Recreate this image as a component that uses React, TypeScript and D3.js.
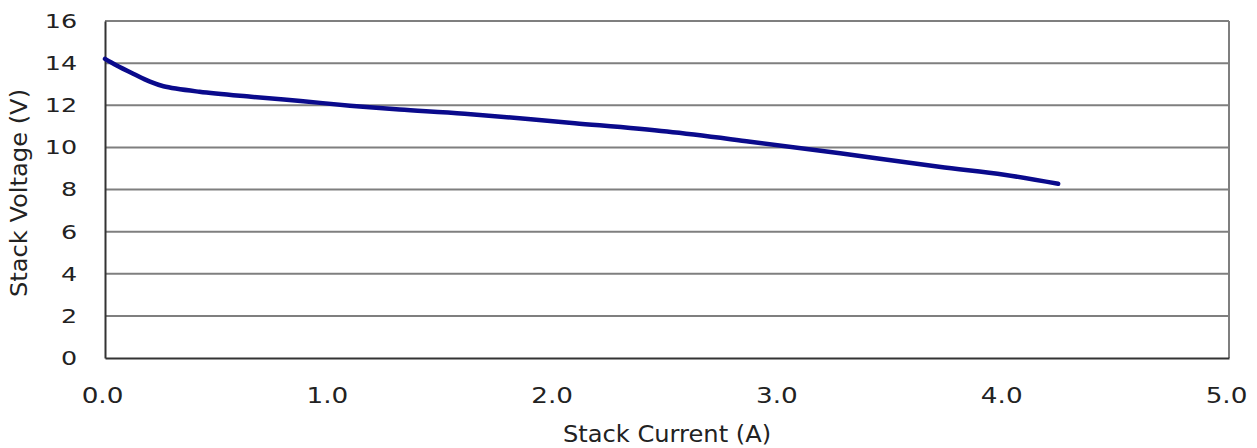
import React, { useEffect, useRef } from "react";
import * as d3 from "d3";

// Stack current (A) and stack voltage (V)
const current = [0, 0.05, 0.125, 0.2, 0.26, 0.42, 0.65, 0.87, 1.09, 1.31, 1.6, 2.09, 2.5, 2.87, 3.27, 3.71, 4.0, 4.24];
const voltage = [14.2, 13.9, 13.5, 13.12, 12.9, 12.64, 12.4, 12.2, 11.98, 11.8, 11.6, 11.15, 10.75, 10.27, 9.72, 9.08, 8.7, 8.27];
const xTicks = [0, 1, 2, 3, 4, 5];
const yTicks = [0, 2, 4, 6, 8, 10, 12, 14, 16];

const App = () => {
  const container = useRef<HTMLDivElement>(null);

  useEffect(() => {
    const width = 1257;
    const height = 448;
    const marginTop = 21;
    const marginRight = 28;
    const marginBottom = 90;
    const marginLeft = 105;
    const font = "'DejaVu Sans', Verdana, sans-serif";
    const textColor = "#222";

    const data = current.map((c, i) => ({ c, v: voltage[i] }));

    const x = d3.scaleLinear().domain([0, 5]).range([marginLeft, width - marginRight]);
    const y = d3.scaleLinear().domain([0, 16]).range([height - marginBottom, marginTop]);

    const svg = d3
      .select(container.current)
      .append("svg")
      .attr("width", width)
      .attr("height", height)
      .attr("viewBox", [0, 0, width, height])
      .style("position", "absolute")
      .style("left", "0px")
      .style("top", "0px")
      .style("background", "#fff");

    // horizontal gridlines
    svg
      .append("g")
      .selectAll("line")
      .data(yTicks.slice(1))
      .join("line")
      .attr("x1", x(0))
      .attr("x2", x(5))
      .attr("y1", (d) => y(d))
      .attr("y2", (d) => y(d))
      .attr("stroke", "#7f7f7f")
      .attr("stroke-width", 2);

    // right border
    svg
      .append("line")
      .attr("x1", x(5))
      .attr("x2", x(5))
      .attr("y1", y(16))
      .attr("y2", y(0))
      .attr("stroke", "#7f7f7f")
      .attr("stroke-width", 2);

    // x axis (labels are a bit wide in the original, so stretch them)
    svg
      .append("g")
      .attr("transform", `translate(0,${y(0)})`)
      .call(d3.axisBottom(x).tickValues(xTicks).tickFormat(d3.format(".1f")).tickSize(0).tickPadding(30))
      .call((g) => g.select(".domain").attr("stroke", "#333").attr("stroke-width", 2))
      .call((g) =>
        g
          .selectAll("text")
          .attr("transform", "translate(-3,0) scale(1.25,1)")
          .style("font-size", "21px")
          .style("font-family", font)
          .attr("fill", textColor)
      );

    // y axis
    svg
      .append("g")
      .attr("transform", `translate(${x(0)},0)`)
      .call(d3.axisLeft(y).tickValues(yTicks).tickSize(0).tickPadding(22))
      .call((g) => g.select(".domain").attr("stroke", "#333").attr("stroke-width", 2))
      .call((g) =>
        g
          .selectAll("text")
          .attr("transform", "scale(1.27,1)")
          .style("font-size", "20px")
          .style("font-family", font)
          .attr("fill", textColor)
      );

    // curve
    svg
      .append("path")
      .datum(data)
      .attr("fill", "none")
      .attr("stroke", "#0a0a8c")
      .attr("stroke-width", 4.5)
      .attr("stroke-linecap", "round")
      .attr("d", d3.line<{ c: number; v: number }>().x((d) => x(d.c)).y((d) => y(d.v)).curve(d3.curveCatmullRom));

    // axis titles
    svg
      .append("text")
      .attr("transform", `translate(667,442) scale(1.05,1)`)
      .attr("text-anchor", "middle")
      .style("font-size", "23px")
      .style("font-family", font)
      .attr("fill", textColor)
      .text("Stack Current (A)");

    svg
      .append("text")
      .attr("transform", `translate(27,193) rotate(-90) scale(1.05,1)`)
      .attr("text-anchor", "middle")
      .style("font-size", "23px")
      .style("font-family", font)
      .attr("fill", textColor)
      .text("Stack Voltage (V)");

    return () => {
      svg.remove();
    };
  }, []);

  return <div ref={container}></div>;
};

export default App;
